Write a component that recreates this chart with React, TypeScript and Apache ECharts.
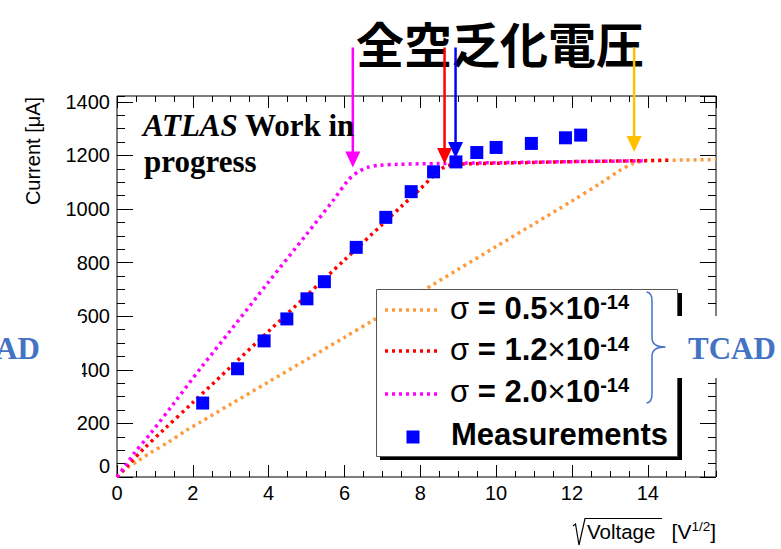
import React, { useEffect, useRef } from "react";
import * as echarts from "echarts";

// ---------- data ----------
const X_MAX = 15.8;
const Y_MAX = 1422;

const orangeCurve: [number, number][] = [
  [0, 0], [0.25, 33], [0.53, 58], [0.9, 92], [1.32, 127], [1.85, 176], [2.2, 205],
  [3, 272], [4, 355], [5, 438], [6, 521], [6.77, 586], [8, 690], [9, 775],
  [10, 860], [11, 945], [12, 1030], [12.75, 1096], [13.27, 1145], [13.62, 1170],
  [13.97, 1180], [15, 1183], [15.8, 1185],
];
const redCurve: [number, number][] = [
  [0, 0], [0.3, 45], [0.7, 105], [1.23, 176], [2, 278], [3, 411], [4, 544],
  [5, 677], [6, 810], [7, 943], [7.5, 1010], [8, 1075], [8.35, 1125],
  [8.55, 1150], [8.75, 1163], [9.1, 1168], [10, 1171], [11, 1174], [12, 1177],
  [13, 1179], [14.6, 1182],
];
const magentaCurve: [number, number][] = [
  [0, 0], [0.2, 38], [0.45, 88], [0.9, 165], [1.5, 275], [2.2, 405], [3, 548],
  [4, 728], [5, 906], [5.7, 1032], [6.1, 1108], [6.35, 1138], [6.6, 1155],
  [6.9, 1163], [7.4, 1167], [8.5, 1170], [10, 1173], [12, 1177], [13.9, 1180],
];
const measurements: [number, number][] = [
  [2.26, 276], [3.18, 404], [3.88, 508], [4.48, 590], [5.01, 665], [5.47, 729],
  [6.31, 857], [7.09, 969], [7.76, 1065], [8.35, 1139], [8.94, 1176],
  [9.49, 1211], [10.0, 1230], [10.93, 1245], [11.83, 1266], [12.23, 1276],
];
const sigmaLabels = ["0.5", "1.2", "2.0"];
const sigmaExponent = "-14";
const measurementLabel = "Measurements";
const titleText = "全空乏化電圧";
const tcadText = "TCAD";
const yTitle = "Current [μA]";
// full-depletion arrow positions (x in sqrt(V))
const arrowX = [6.22, 8.64, 8.93, 13.64];

// ---------- styles ----------
const FONT = "'Liberation Sans', Arial, Helvetica, sans-serif";
const SERIF = "'Liberation Serif', 'Times New Roman', serif";
const ORANGE = "#ff9a3c";
const RED = "#ff0000";
const MAGENTA = "#ff00ff";
const BLUE = "#0000ff";
const TCAD_BLUE = "#4472c4";
const DOT = [3, 4];

const BRACE_D =
  "M646.5,292 Q652,292.5 652,301 L652,338 Q652,347 665.5,347 Q652,347 652,356 L652,394 Q652,402.5 646.5,403";
echarts.graphic.registerShape("brace", echarts.graphic.extendPath(BRACE_D, {}));

const GRID = { left: 117, right: 65, top: 96, bottom: 72 };

function xAxisDef(position: "bottom" | "top", interval: number, len: number, labels: boolean) {
  return {
    type: "value",
    position,
    min: 0,
    max: X_MAX,
    interval,
    axisLine: { show: false, onZero: false },
    splitLine: { show: false },
    axisTick: { show: true, inside: true, length: len, lineStyle: { color: "#000", width: 1 } },
    axisLabel: labels
      ? { show: true, color: "#000", fontSize: 20, fontFamily: FONT, margin: 6, showMaxLabel: false }
      : { show: false },
  };
}

function yAxisDef(position: "left" | "right", interval: number, len: number, labels: boolean) {
  return {
    type: "value",
    position,
    min: 0,
    max: Y_MAX,
    interval,
    axisLine: { show: false, onZero: false },
    splitLine: { show: false },
    axisTick: { show: true, inside: true, length: len, lineStyle: { color: "#000", width: 1 } },
    axisLabel: labels
      ? {
          show: true,
          margin: 7,
          showMaxLabel: false,
          formatter: (v: number) => (v === 0 ? "{z|0}" : "{n|" + v + "}"),
          rich: {
            n: { fontSize: 20, fontFamily: FONT, color: "#000" },
            z: { fontSize: 20, fontFamily: FONT, color: "#000", padding: [0, 0, 22, 0] },
          },
        }
      : { show: false },
  };
}

function lineSeries(name: string, data: [number, number][], color: string) {
  return {
    type: "line",
    name,
    data,
    xAxisIndex: 0,
    yAxisIndex: 0,
    showSymbol: false,
    symbol: "none",
    smooth: 0.3,
    lineStyle: { color, width: 3.5, type: DOT, cap: "butt", opacity: 1 },
  };
}

function arrow(px: number, tip: number, color: string) {
  return [
    { type: "line", z: 20, shape: { x1: px, y1: 47.5, x2: px, y2: tip - 12 }, style: { stroke: color, lineWidth: 2.5 } },
    {
      type: "polygon",
      z: 20,
      shape: { points: [[px - 7.5, tip - 16], [px + 7.5, tip - 16], [px, tip]] },
      style: { fill: color },
    },
  ];
}

export default function App() {
  const ref = useRef<HTMLDivElement>(null);

  useEffect(() => {
    if (!ref.current) return;
    const chart = echarts.init(ref.current, undefined, { renderer: "svg" });

    const rowY = [308, 349.5, 391.3];
    const rowLineY = [310, 351, 394];
    const rowColors = [ORANGE, RED, MAGENTA];

    const legendElems: any[] = [
      { type: "rect", z: 14, shape: { x: 380, y: 293, width: 302, height: 167 }, style: { fill: "#000" } },
      { type: "rect", z: 15, shape: { x: 376.5, y: 289.5, width: 301, height: 167 }, style: { fill: "#fff", stroke: "#555", lineWidth: 1 } },
    ];
    sigmaLabels.forEach((s, i) => {
      legendElems.push({
        type: "line",
        z: 16,
        shape: { x1: 385, y1: rowLineY[i], x2: 441, y2: rowLineY[i] },
        style: { stroke: rowColors[i], lineWidth: 3.5, lineDash: DOT },
      });
      legendElems.push({
        type: "text",
        z: 16,
        x: 450,
        y: rowY[i],
        style: {
          text: `{g|σ}{b| = ${s}}{g|×}{b|10}{s|${sigmaExponent}}`,
          align: "left",
          verticalAlign: "middle",
          rich: {
            g: { fontFamily: FONT, fontSize: 31, fontWeight: "normal", fill: "#000", lineHeight: 32 },
            b: { fontFamily: FONT, fontSize: 31, fontWeight: "bold", fill: "#000", lineHeight: 32 },
            s: { fontFamily: FONT, fontSize: 20, fontWeight: "bold", fill: "#000", lineHeight: 12, verticalAlign: "top" },
          },
        },
      });
    });
    legendElems.push({
      type: "rect",
      z: 16,
      shape: { x: 406.5, y: 430.5, width: 13, height: 13 },
      style: { fill: BLUE },
    });
    legendElems.push({
      type: "text",
      z: 16,
      x: 451,
      y: 434.6,
      style: { text: measurementLabel, font: `bold 31px ${FONT}`, fill: "#000", align: "left", verticalAlign: "middle" },
    });

    const arrowColors = [MAGENTA, RED, BLUE, "#ffc000"];
    const arrowTips = [167.5, 164, 158, 152];

    chart.setOption({
      animation: false,
      backgroundColor: "#fff",
      grid: { ...GRID, show: true, borderColor: "#000", borderWidth: 1, backgroundColor: "transparent", outerBoundsMode: "none", containLabel: false },
      xAxis: [
        xAxisDef("bottom", 2, 12, true),
        xAxisDef("bottom", 0.5, 6, false),
        xAxisDef("top", 2, 12, false),
        xAxisDef("top", 0.5, 6, false),
      ],
      yAxis: [
        yAxisDef("left", 200, 16, true),
        yAxisDef("left", 50, 8, false),
        yAxisDef("right", 200, 16, false),
        yAxisDef("right", 50, 8, false),
      ],
      series: [
        lineSeries("σ = 0.5×10^-14", orangeCurve, ORANGE),
        lineSeries("σ = 1.2×10^-14", redCurve, RED),
        lineSeries("σ = 2.0×10^-14", magentaCurve, MAGENTA),
        {
          type: "scatter",
          name: measurementLabel,
          data: measurements,
          symbol: "rect",
          symbolSize: 13,
          itemStyle: { color: BLUE, opacity: 1 },
          z: 5,
        },
      ],
    });

    const arrowEls: any[] = [];
    arrowX.forEach((xv, i) => {
      const px = chart.convertToPixel({ xAxisIndex: 0 }, xv) as number;
      arrowEls.push(...arrow(px, arrowTips[i], arrowColors[i]));
    });

    chart.setOption({
      graphic: [
        // title
        {
          type: "text",
          z: 20,
          x: 500,
          y: 42,
          style: { text: titleText, font: `bold 48px 'Noto Sans CJK JP', sans-serif`, fill: "#000", align: "center", verticalAlign: "middle" },
        },
        ...arrowEls,
        // ATLAS label
        {
          type: "text",
          z: 20,
          x: 143,
          y: 125,
          style: {
            text: "{i|ATLAS}{b| Work in}",
            align: "left",
            verticalAlign: "middle",
            rich: {
              i: { fontFamily: SERIF, fontSize: 31, fontWeight: "bold", fontStyle: "italic", fill: "#000" },
              b: { fontFamily: SERIF, fontSize: 31, fontWeight: "bold", fill: "#000" },
            },
          },
        },
        {
          type: "text",
          z: 20,
          x: 144,
          y: 161.5,
          style: { text: "progress", font: `bold 31px ${SERIF}`, fill: "#000", align: "left", verticalAlign: "middle" },
        },
        // y title
        {
          type: "text",
          z: 20,
          x: 33,
          y: 151,
          rotation: Math.PI / 2,
          style: { text: yTitle, font: `20px ${FONT}`, fill: "#000", align: "center", verticalAlign: "middle" },
        },
        // x title: radical sign + text
        {
          type: "polyline",
          z: 20,
          shape: { points: [[573, 526], [575.5, 524], [579, 545], [585, 518.5], [662, 518.5]] },
          style: { stroke: "#000", lineWidth: 1.2, fill: "none" },
        },
        {
          type: "text",
          z: 20,
          x: 587,
          y: 531,
          style: { text: "Voltage", font: `20.5px ${FONT}`, fill: "#000", align: "left", verticalAlign: "middle" },
        },
        {
          type: "text",
          z: 20,
          x: 716,
          y: 531,
          style: {
            text: "{n|[V}{s|1/2}{n|]}",
            align: "right",
            verticalAlign: "middle",
            rich: {
              n: { fontFamily: FONT, fontSize: 21, fill: "#000", lineHeight: 24 },
              s: { fontFamily: FONT, fontSize: 13.5, fill: "#000", lineHeight: 13, verticalAlign: "top" },
            },
          },
        },
        ...legendElems,
        // right TCAD annotation box
        { type: "rect", z: 18, shape: { x: 670, y: 316, width: 111, height: 62 }, style: { fill: "#fff" } },
        { type: "brace", z: 21, x: 0, y: 0, style: { fill: "none", stroke: TCAD_BLUE, lineWidth: 1.5 } },
        {
          type: "text",
          z: 21,
          x: 688,
          y: 348,
          style: { text: tcadText, font: `bold 31px ${SERIF}`, fill: TCAD_BLUE, align: "left", verticalAlign: "middle" },
        },
        // left TCAD annotation box (cut by the page edge, as in the reference)
        { type: "rect", z: 18, shape: { x: 0, y: 316, width: 82, height: 62 }, style: { fill: "#fff" } },
        {
          type: "text",
          z: 21,
          x: 40,
          y: 348,
          style: { text: tcadText, font: `bold 31px ${SERIF}`, fill: TCAD_BLUE, align: "right", verticalAlign: "middle" },
        },
      ],
    });

    return () => chart.dispose();
  }, []);

  return (
    <div
      ref={ref}
      style={{ position: "fixed", left: 0, top: 0, width: 781, height: 549, background: "#fff" }}
    />
  );
}
